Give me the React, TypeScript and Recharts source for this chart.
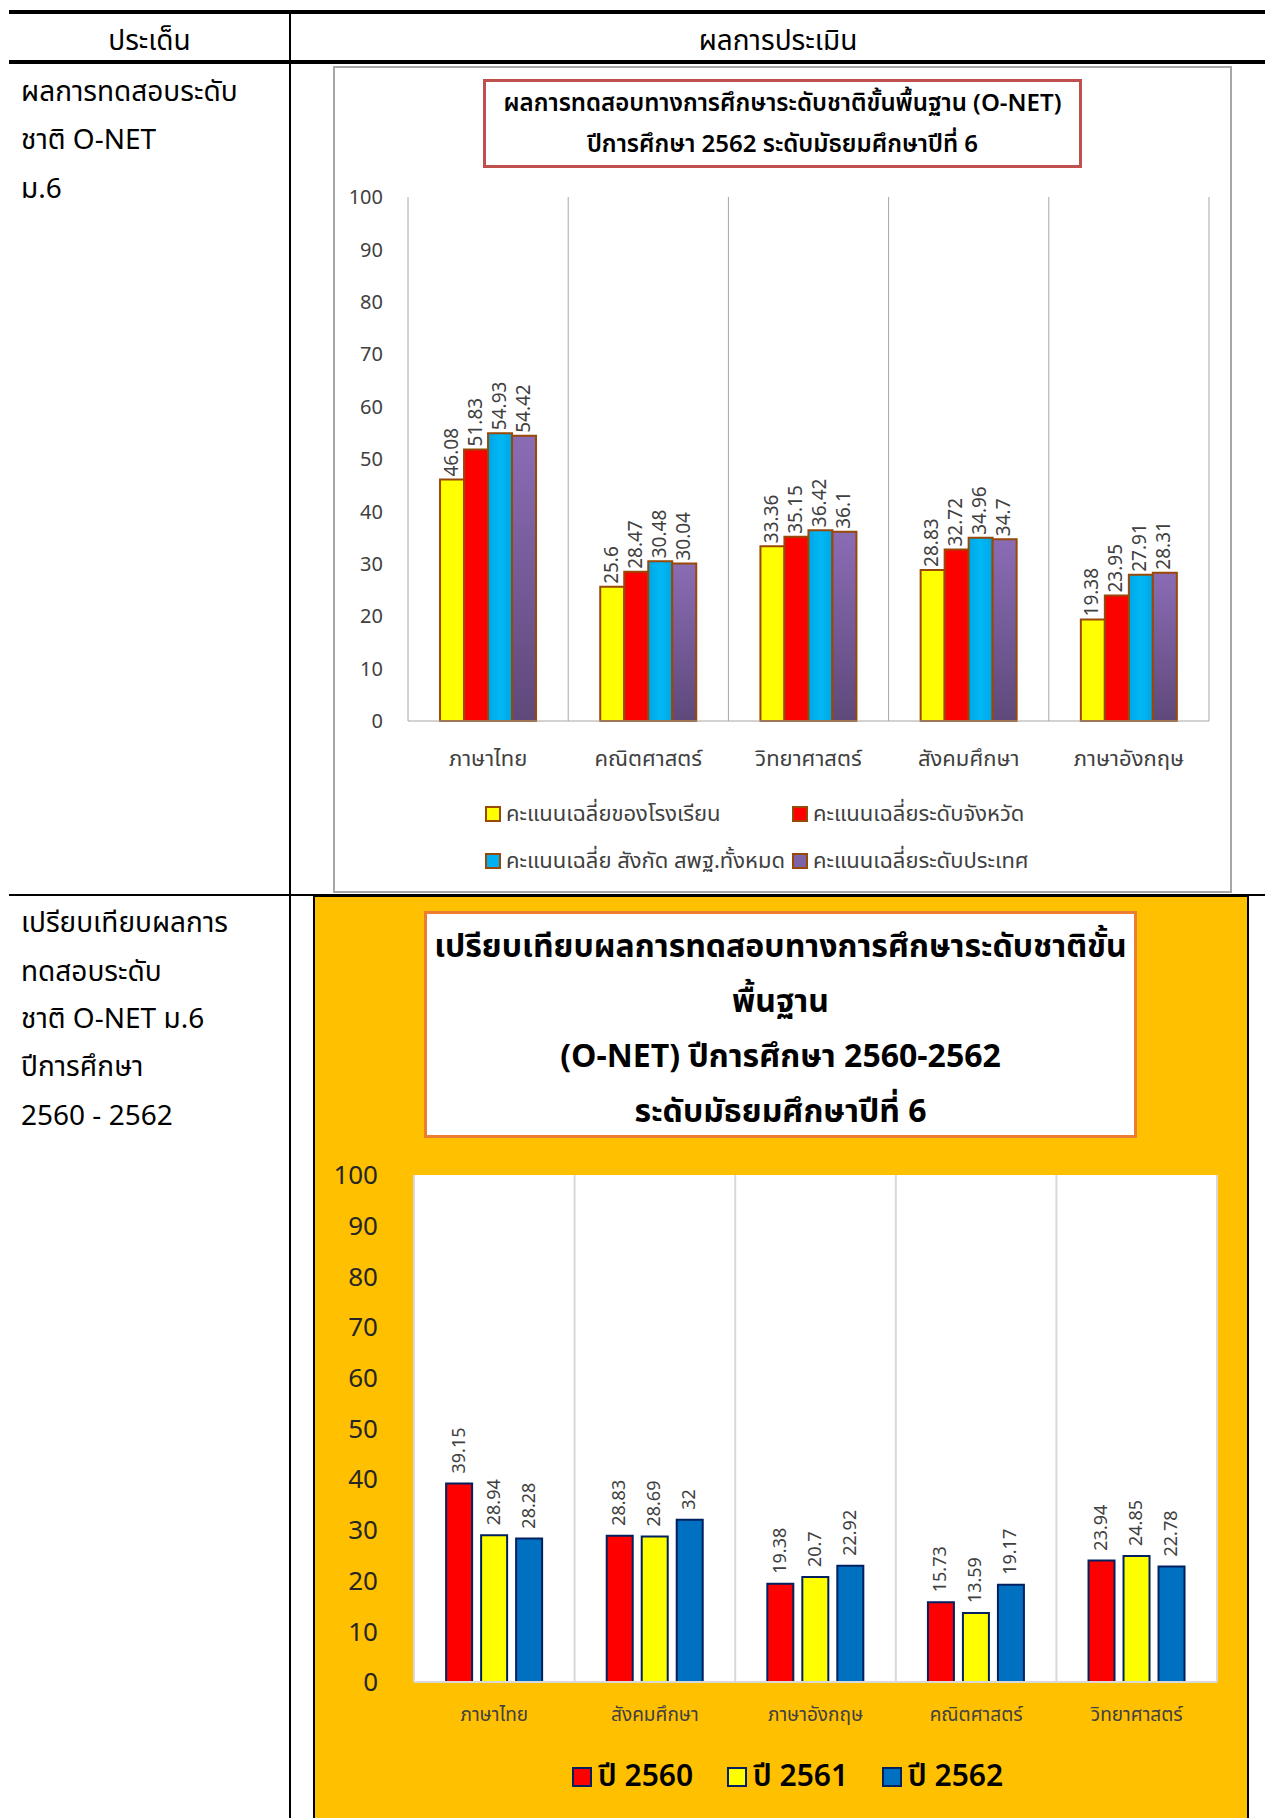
import React from 'react';
import { BarChart, Bar, XAxis, YAxis, CartesianGrid, Legend, LabelList } from 'recharts';

// chart 1 : O-NET 2562
const subjects1 = ['ภาษาไทย', 'คณิตศาสตร์', 'วิทยาศาสตร์', 'สังคมศึกษา', 'ภาษาอังกฤษ'];
const schoolAvg = [46.08, 25.6, 33.36, 28.83, 19.38];
const provinceAvg = [51.83, 28.47, 35.15, 32.72, 23.95];
const areaAvg = [54.93, 30.48, 36.42, 34.96, 27.91];
const nationAvg = [54.42, 30.04, 36.1, 34.7, 28.31];
const series1Names = [
  'คะแนนเฉลี่ยของโรงเรียน',
  'คะแนนเฉลี่ยระดับจังหวัด',
  'คะแนนเฉลี่ย สังกัด สพฐ.ทั้งหมด',
  'คะแนนเฉลี่ยระดับประเทศ',
];
const series1Colors = ['#ffff00', '#ff0000', '#00b0f0', '#7e62a6'];

// chart 2 : 2560-2562
const subjects2 = ['ภาษาไทย', 'สังคมศึกษา', 'ภาษาอังกฤษ', 'คณิตศาสตร์', 'วิทยาศาสตร์'];
const y2560 = [39.15, 28.83, 19.38, 15.73, 23.94];
const y2561 = [28.94, 28.69, 20.7, 13.59, 24.85];
const y2562 = [28.28, 32, 22.92, 19.17, 22.78];
const series2Names = ['ปี 2560', 'ปี 2561', 'ปี 2562'];
const series2Colors = ['#ff0000', '#ffff00', '#0070c0'];

const yTicks = [0, 10, 20, 30, 40, 50, 60, 70, 80, 90, 100];

const data1 = subjects1.map((s, i) => ({
  subject: s,
  school: schoolAvg[i],
  province: provinceAvg[i],
  area: areaAvg[i],
  nation: nationAvg[i],
}));
const data2 = subjects2.map((s, i) => ({ subject: s, a: y2560[i], b: y2561[i], c: y2562[i] }));

const FONT = '"Noto Sans Thai", "Noto Sans", Tahoma, sans-serif';

const makeLabel = (fontSize: number, gap: number) => (props: any) => {
  const { x, y, width, value } = props;
  const cx = x + width / 2;
  const cy = y - gap;
  return (
    <text
      x={cx}
      y={cy}
      transform={`rotate(-90 ${cx} ${cy})`}
      textAnchor="start"
      dominantBaseline="central"
      fontSize={fontSize}
      fill="#404040"
      fontFamily={FONT}
    >
      {value}
    </text>
  );
};

const boundaries = (n: number) => ({ offset }: any) =>
  Array.from({ length: n + 1 }, (_, i) => offset.left + (i * offset.width) / n);

const Legend1 = () => (
  <div style={{ paddingTop: 19, display: 'grid', gridTemplateColumns: '307px auto', rowGap: 19, fontFamily: FONT, fontSize: 22, color: '#404040' }}>
    {series1Names.map((n, i) => (
      <div key={n} style={{ display: 'flex', alignItems: 'center', height: 28 }}>
        <span style={{ width: 12, height: 12, background: series1Colors[i], border: '2px solid #984807', marginRight: 5 }} />
        <span>{n}</span>
      </div>
    ))}
  </div>
);

const Legend2 = () => (
  <div style={{ paddingTop: 12, display: 'flex', fontFamily: FONT, fontSize: 30, fontWeight: 600, color: '#000' }}>
    {series2Names.map((n, i) => (
      <div key={n} style={{ display: 'flex', alignItems: 'center', width: 155 }}>
        <span style={{ width: 16, height: 16, background: series2Colors[i], border: '2px solid #002060', marginRight: 6 }} />
        <span>{n}</span>
      </div>
    ))}
  </div>
);

const cellText: React.CSSProperties = { position: 'absolute', fontFamily: FONT, fontSize: 28, color: '#000', lineHeight: '32px' };

export default function App() {
  return (
    <div style={{ position: 'relative', width: 1265, height: 1818, background: '#fff', overflow: 'hidden', fontFamily: FONT }}>
      <style>{'body{margin:0}'}</style>
      {/* table lines */}
      <div style={{ position: 'absolute', left: 9, top: 10, width: 1256, height: 4, background: '#000' }} />
      <div style={{ position: 'absolute', left: 9, top: 60, width: 1256, height: 4, background: '#000' }} />
      <div style={{ position: 'absolute', left: 289, top: 10, width: 2, height: 1808, background: '#000' }} />
      <div style={{ position: 'absolute', left: 9, top: 894, width: 1256, height: 2, background: '#000' }} />

      <div style={{ ...cellText, left: 9, width: 281, top: 26, textAlign: 'center' }}>ประเด็น</div>
      <div style={{ ...cellText, left: 291, width: 974, top: 26, textAlign: 'center' }}>ผลการประเมิน</div>

      <div style={{ ...cellText, left: 21, top: 77 }}>ผลการทดสอบระดับ</div>
      <div style={{ ...cellText, left: 21, top: 125 }}>ชาติ O-NET</div>
      <div style={{ ...cellText, left: 21, top: 174 }}>ม.6</div>

      <div style={{ ...cellText, left: 21, top: 908 }}>เปรียบเทียบผลการ</div>
      <div style={{ ...cellText, left: 21, top: 957 }}>ทดสอบระดับ</div>
      <div style={{ ...cellText, left: 21, top: 1004 }}>ชาติ O-NET ม.6</div>
      <div style={{ ...cellText, left: 21, top: 1052 }}>ปีการศึกษา</div>
      <div style={{ ...cellText, left: 21, top: 1101 }}>2560 - 2562</div>

      {/* chart 1 */}
      <div style={{ position: 'absolute', left: 333, top: 66, width: 899, height: 827, border: '2px solid #a6a6a6', boxSizing: 'border-box', background: '#fff' }}>
        <BarChart
          width={895}
          height={823}
          data={data1}
          margin={{ top: 129, right: 21, bottom: 10, left: 0 }}
          barCategoryGap="20%"
          barGap={0}
        >
          <defs>
            <linearGradient id="purpleFill" x1="0" y1="0" x2="0" y2="1">
              <stop offset="0%" stopColor="#8a6cb5" />
              <stop offset="100%" stopColor="#5f497a" />
            </linearGradient>
            <linearGradient id="cyanFill" x1="0" y1="0" x2="1" y2="0">
              <stop offset="0%" stopColor="#00a6e6" />
              <stop offset="50%" stopColor="#00b8f5" />
              <stop offset="100%" stopColor="#00a6e6" />
            </linearGradient>
          </defs>
          <CartesianGrid horizontal={false} stroke="#a6a6a6" verticalCoordinatesGenerator={boundaries(subjects1.length)} />
          <XAxis dataKey="subject" height={60} tickLine={false} axisLine={{ stroke: '#a6a6a6' }} tickMargin={23} tick={{ fontSize: 22, fill: '#404040', fontFamily: FONT }} />
          <YAxis width={73} domain={[0, 100]} ticks={yTicks} tickLine={false} axisLine={false} tickMargin={19} tick={{ fontSize: 20, fill: '#404040', fontFamily: FONT }} />
          <Legend content={<Legend1 />} wrapperStyle={{ left: 150, bottom: 10, width: 720, height: 100 }} />
          <Bar dataKey="school" name={series1Names[0]} fill={series1Colors[0]} stroke="#984807" strokeWidth={2} isAnimationActive={false}>
            <LabelList dataKey="school" content={makeLabel(19, 3)} />
          </Bar>
          <Bar dataKey="province" name={series1Names[1]} fill={series1Colors[1]} stroke="#984807" strokeWidth={2} isAnimationActive={false}>
            <LabelList dataKey="province" content={makeLabel(19, 3)} />
          </Bar>
          <Bar dataKey="area" name={series1Names[2]} fill="url(#cyanFill)" stroke="#984807" strokeWidth={2} isAnimationActive={false}>
            <LabelList dataKey="area" content={makeLabel(19, 3)} />
          </Bar>
          <Bar dataKey="nation" name={series1Names[3]} fill="url(#purpleFill)" stroke="#984807" strokeWidth={2} isAnimationActive={false}>
            <LabelList dataKey="nation" content={makeLabel(19, 3)} />
          </Bar>
        </BarChart>
        <div style={{ position: 'absolute', left: 148, top: 11, width: 599, height: 89, border: '3px solid #c0504d', boxSizing: 'border-box', background: '#fff', textAlign: 'center', fontSize: 24, fontWeight: 600, lineHeight: '41px', paddingTop: 2, color: '#000' }}>
          <div>ผลการทดสอบทางการศึกษาระดับชาติขั้นพื้นฐาน (O-NET)</div>
          <div>ปีการศึกษา 2562 ระดับมัธยมศึกษาปีที่ 6</div>
        </div>
      </div>

      {/* chart 2 */}
      <div style={{ position: 'absolute', left: 313, top: 895, width: 936, height: 930, borderLeft: '2px solid #000', borderRight: '2px solid #000', borderTop: '2px solid #000', boxSizing: 'border-box', background: '#ffc000' }}>
        <BarChart
          width={932}
          height={921}
          data={data2}
          margin={{ top: 278, right: 30, bottom: 10, left: 0 }}
          barCategoryGap="20%"
          barGap={9}
        >
          <CartesianGrid horizontal={false} fill="#ffffff" fillOpacity={1} stroke="#d9d9d9" strokeWidth={2} verticalCoordinatesGenerator={boundaries(subjects2.length)} />
          <XAxis dataKey="subject" height={60} tickLine={false} axisLine={{ stroke: '#d9d9d9', strokeWidth: 2 }} tickMargin={20} tick={{ fontSize: 19, fill: '#404040', fontFamily: FONT }} />
          <YAxis width={99} domain={[0, 100]} ticks={yTicks} tickLine={false} axisLine={false} tickMargin={30} tick={{ fontSize: 26, fill: '#262626', fontFamily: FONT }} />
          <Legend content={<Legend2 />} wrapperStyle={{ left: 257, bottom: 10, width: 520, height: 66 }} />
          <Bar dataKey="a" name={series2Names[0]} fill={series2Colors[0]} stroke="#002060" strokeWidth={2} isAnimationActive={false}>
            <LabelList dataKey="a" content={makeLabel(18, 10)} />
          </Bar>
          <Bar dataKey="b" name={series2Names[1]} fill={series2Colors[1]} stroke="#002060" strokeWidth={2} isAnimationActive={false}>
            <LabelList dataKey="b" content={makeLabel(18, 10)} />
          </Bar>
          <Bar dataKey="c" name={series2Names[2]} fill={series2Colors[2]} stroke="#002060" strokeWidth={2} isAnimationActive={false}>
            <LabelList dataKey="c" content={makeLabel(18, 10)} />
          </Bar>
        </BarChart>
        <div style={{ position: 'absolute', left: 109, top: 14, width: 713, height: 227, border: '3px solid #ed7d31', boxSizing: 'border-box', background: '#fff', textAlign: 'center', fontSize: 32, fontWeight: 700, lineHeight: '55px', paddingTop: 6, color: '#000' }}>
          <div>เปรียบเทียบผลการทดสอบทางการศึกษาระดับชาติขั้น</div>
          <div>พื้นฐาน</div>
          <div>(O-NET) ปีการศึกษา 2560-2562</div>
          <div>ระดับมัธยมศึกษาปีที่ 6</div>
        </div>
      </div>
    </div>
  );
}
